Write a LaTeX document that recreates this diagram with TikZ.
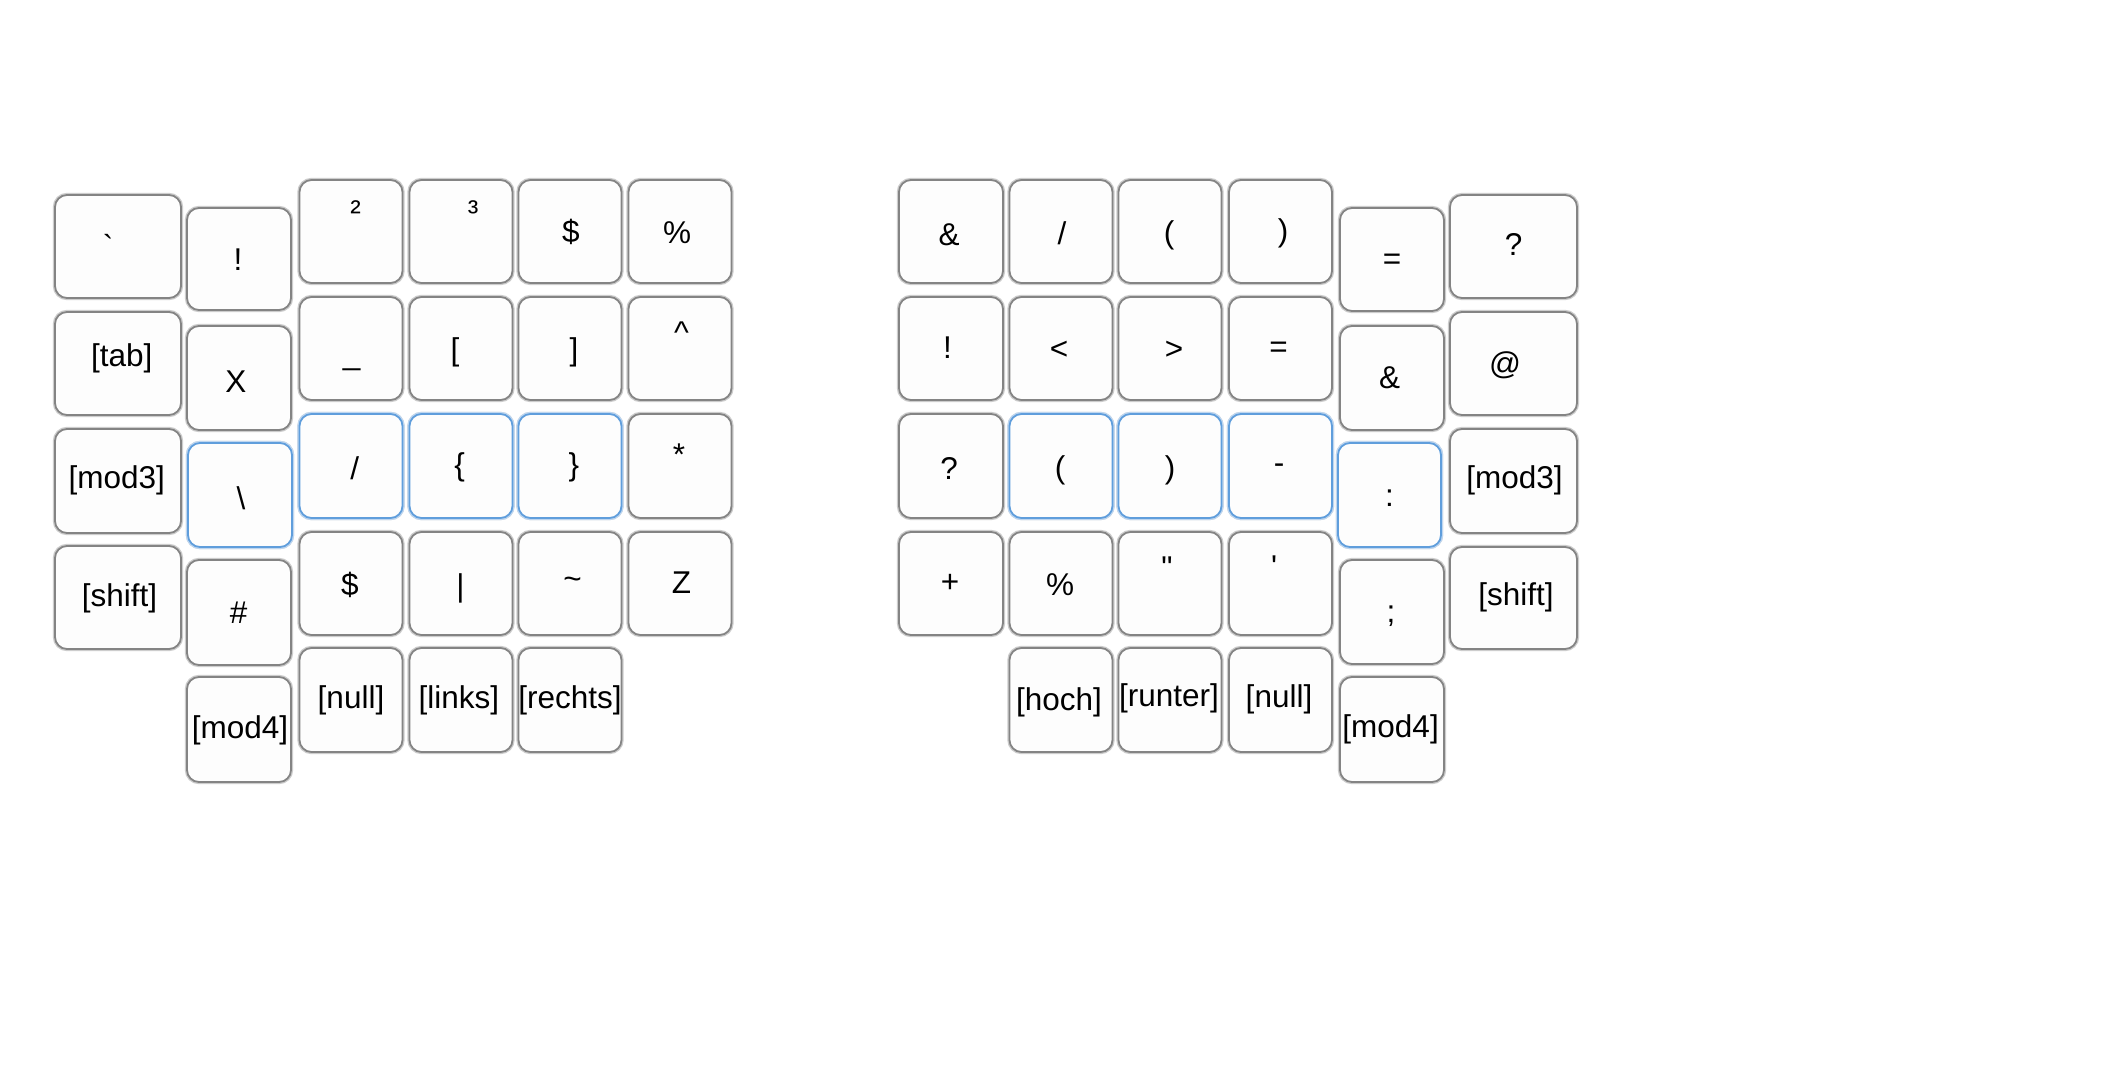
\documentclass[tikz,border=0pt]{standalone}
\usepackage{fontspec}
\newfontfamily\kf{Liberation Sans}
\definecolor{keyedge}{RGB}{132,132,132}
\definecolor{keyhalo}{RGB}{205,205,205}
\definecolor{blueedge}{RGB}{96,158,220}
\definecolor{bluehalo}{RGB}{190,214,240}
\definecolor{keyfill}{RGB}{253,253,253}
\tikzset{
  keybox/.style={rectangle, rounded corners=6pt, fill=keyfill, draw=keyedge, line width=0.9pt,
    preaction={draw=keyhalo, line width=2.2pt}, inner sep=0pt},
  bluebox/.style={keybox, draw=blueedge, preaction={draw=bluehalo, line width=2.2pt}},
  lbl/.style={inner sep=0pt, font=\kf\fontsize{15.75pt}{18pt}\selectfont, text=black}
}
% name, cx, cy, w, h, style, label x, label y, text
\newcommand\mykey[9]{%
  \node[#6, minimum width=#4*0.5pt, minimum height=#5*0.5pt] (#1) at (#2,#3) {};
  \node[lbl] (#1t) at (#7,#8) {#9};}
\begin{document}
\begin{tikzpicture}[x=0.5pt,y=-0.5pt]
\useasboundingbox[fill=white] (0,0) rectangle (2126,1081);
% ---------------- left half ----------------
% column 0 (wide)
\mykey{la0}{118}{246.5}{126}{103}{keybox}{108}{246}{`}
\mykey{la1}{118}{363.5}{126}{103}{keybox}{121.7}{358}{[tab]}
\mykey{la2}{118}{481}{126}{104}{keybox}{116.8}{480}{[mod3]}
\mykey{la3}{118}{597.5}{126}{103}{keybox}{119.5}{598}{[shift]}
% column 1
\mykey{lb0}{239}{259}{104}{102}{keybox}{238}{260}{!}
\mykey{lb1}{239}{378}{104}{104}{keybox}{236}{382}{X}
\mykey{lb2}{240}{495}{104}{104}{bluebox}{241}{498}{\textbackslash}
\mykey{lb3}{239}{612.5}{104}{105}{keybox}{238.7}{613}{\#}
\mykey{lb4}{239}{729.5}{104}{105}{keybox}{240}{730}{[mod4]}
% row 1
\mykey{lc0}{351}{231.5}{103}{103}{keybox}{355.6}{212}{²}
\mykey{ld0}{461}{231.5}{103}{103}{keybox}{473}{212}{³}
\mykey{le0}{570}{231.5}{103}{103}{keybox}{571}{232}{\$}
\mykey{lf0}{680}{231.5}{103}{103}{keybox}{677}{233}{\%}
% row 2
\mykey{lc1}{351}{348.5}{103}{103}{keybox}{351.6}{368}{\_}
\mykey{ld1}{461}{348.5}{103}{103}{keybox}{455}{352}{[}
\mykey{le1}{570}{348.5}{103}{103}{keybox}{574}{352}{]}
\mykey{lf1}{680}{348.5}{103}{103}{keybox}{681.5}{333}{\textasciicircum}
% row 3
\mykey{lc2}{351}{466}{103}{104}{bluebox}{354.7}{468}{/}
\mykey{ld2}{461}{466}{103}{104}{bluebox}{459.6}{467}{\{}
\mykey{le2}{570}{466}{103}{104}{bluebox}{574}{467}{\}}
\mykey{lf2}{680}{466}{103}{104}{keybox}{679}{455}{*}
% row 4
\mykey{lc3}{351}{583.5}{103}{103}{keybox}{350}{585}{\$}
\mykey{ld3}{461}{583.5}{103}{103}{keybox}{460.5}{588}{|}
\mykey{le3}{570}{583.5}{103}{103}{keybox}{572.6}{583}{\textasciitilde}
\mykey{lf3}{680}{583.5}{103}{103}{keybox}{681.5}{583}{Z}
% row 5
\mykey{lc4}{351}{700}{103}{104}{keybox}{351}{700}{[null]}
\mykey{ld4}{461}{700}{103}{104}{keybox}{458.8}{700}{[links]}
\mykey{le4}{570}{700}{103}{104}{keybox}{570}{700}{[rechts]}
% ---------------- right half ----------------
% row 1
\mykey{ra0}{951}{231.5}{104}{103}{keybox}{949}{235}{\&}
\mykey{rb0}{1061}{231.5}{103}{103}{keybox}{1062}{233}{/}
\mykey{rc0}{1170}{231.5}{103}{103}{keybox}{1169}{235}{(}
\mykey{rd0}{1280.5}{231.5}{103}{103}{keybox}{1283}{233}{)}
% row 2
\mykey{ra1}{951}{348.5}{104}{103}{keybox}{947.5}{348}{!}
\mykey{rb1}{1061}{348.5}{103}{103}{keybox}{1059}{350}{<}
\mykey{rc1}{1170}{348.5}{103}{103}{keybox}{1174}{350}{>}
\mykey{rd1}{1280.5}{348.5}{103}{103}{keybox}{1278.5}{350}{=}
% row 3
\mykey{ra2}{951}{466}{104}{104}{keybox}{949}{468}{?}
\mykey{rb2}{1061}{466}{103}{104}{bluebox}{1060}{470}{(}
\mykey{rc2}{1170}{466}{103}{104}{bluebox}{1170}{470}{)}
\mykey{rd2}{1280.5}{466}{103}{104}{bluebox}{1279}{469}{-}
% row 4
\mykey{ra3}{951}{583.5}{104}{103}{keybox}{950}{583}{+}
\mykey{rb3}{1061}{583.5}{103}{103}{keybox}{1060}{585}{\%}
\mykey{rc3}{1170}{583.5}{103}{103}{keybox}{1167}{568}{"}
\mykey{rd3}{1280.5}{583.5}{103}{103}{keybox}{1274}{567}{'}
% row 5
\mykey{rb4}{1061}{700}{103}{104}{keybox}{1059}{702}{[hoch]}
\mykey{rc4}{1170}{700}{103}{104}{keybox}{1169}{698}{[runter]}
\mykey{rd4}{1280.5}{700}{103}{104}{keybox}{1279}{699}{[null]}
% column E
\mykey{re0}{1392}{259.5}{104}{103}{keybox}{1392}{262}{=}
\mykey{re1}{1392}{378}{104}{104}{keybox}{1389.6}{378}{\&}
\mykey{re2}{1389.5}{495}{103}{104}{bluebox}{1389.6}{498}{:}
\mykey{re3}{1392}{612}{104}{104}{keybox}{1391}{616}{;}
\mykey{re4}{1392}{729.5}{104}{105}{keybox}{1390.6}{729}{[mod4]}
% column F (wide)
\mykey{rf0}{1513.5}{246.5}{127}{103}{keybox}{1513.6}{245}{?}
\mykey{rf1}{1513.5}{363.5}{127}{103}{keybox}{1505}{365}{@}
\mykey{rf2}{1513.5}{481}{127}{104}{keybox}{1514.5}{480}{[mod3]}
\mykey{rf3}{1513.5}{598}{127}{102}{keybox}{1516}{597}{[shift]}
\end{tikzpicture}
\end{document}
